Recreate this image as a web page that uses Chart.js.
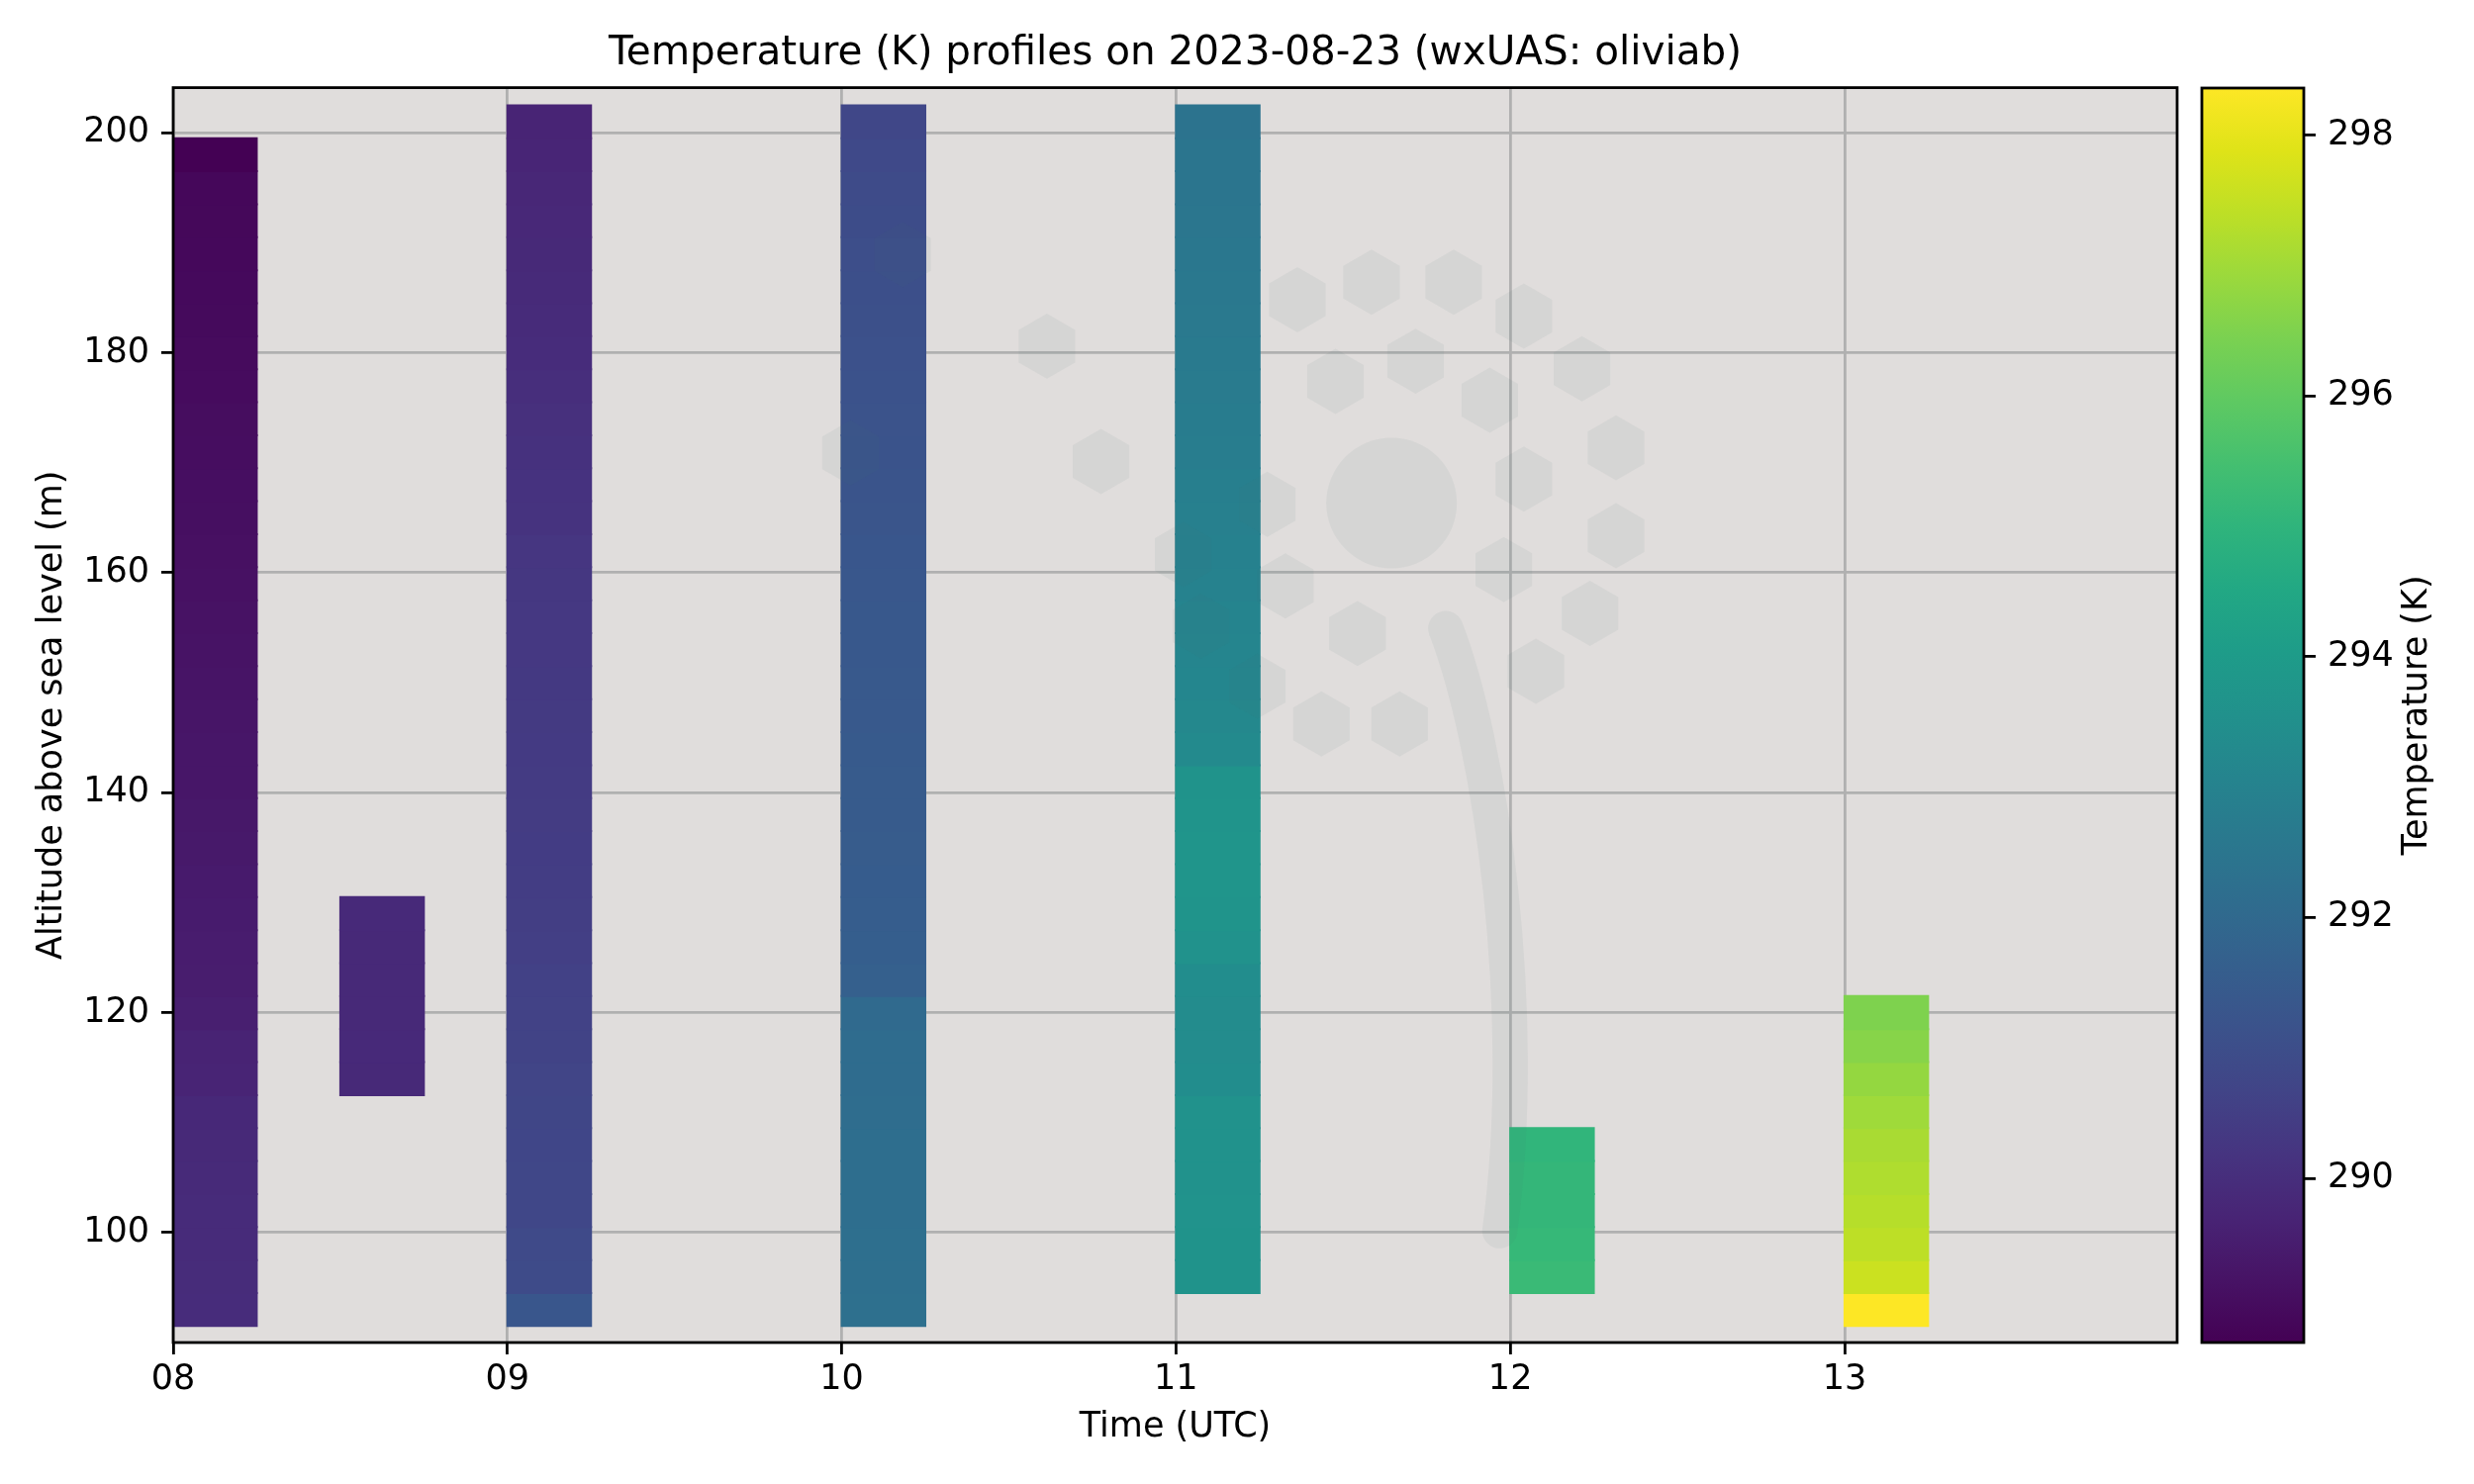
<!DOCTYPE html>
<html lang="en">
<head>
  <meta charset="UTF-8">
  <title>Temperature (K) profiles on 2023-08-23</title>
  <style>
    html, body {
      margin: 0;
      padding: 0;
      background: #ffffff;
    }
    #wrap {
      position: relative;
      width: 2500px;
      height: 1500px;
    }
    #mainCanvas {
      position: absolute;
      left: 0;
      top: 0;
    }
    #barCanvas {
      position: absolute;
      left: 2215px;
      top: 0;
    }
  </style>
  <script src="https://cdn.jsdelivr.net/npm/chart.js"></script>
</head>
<body>
  <div id="wrap">
    <canvas id="mainCanvas" width="2215" height="1500"></canvas>
    <canvas id="barCanvas" width="285" height="1500"></canvas>
  </div>

  <script>
    // ---- data ----

    // launch time of each profile, hours UTC
    const launchTimes = [8, 8.5, 9, 10, 11, 12, 13];
    // each profile is drawn 15 minutes wide
    const profileHours = 0.25;

    // centre of each 3 m altitude bin (m above sea level), bottom to top
    const altitudeBins = [93, 96, 99, 102, 105, 108, 111, 114, 117, 120, 123, 126, 129,
      132, 135, 138, 141, 144, 147, 150, 153, 156, 159, 162, 165, 168, 171, 174,
      177, 180, 183, 186, 189, 192, 195, 198, 201];

    // temperature (K) in each bin, null where the flight has no data
    const temp0800 = [289.95, 289.93, 289.92, 289.90, 289.88, 289.85, 289.83, 289.70, 289.68,
      289.55, 289.50, 289.48, 289.45, 289.42, 289.38, 289.35, 289.32, 289.30, 289.28, 289.25,
      289.22, 289.20, 289.17, 289.15, 289.12, 289.10, 289.07, 289.05, 289.02, 289.00, 288.98,
      288.96, 288.94, 288.92, 288.90, 288.74, null];
    const temp0830 = [null, null, null, null, null, null, null, 289.85, 289.86, 289.85, 289.84,
      289.85, 289.86, null, null, null, null, null, null, null, null, null, null, null, null,
      null, null, null, null, null, null, null, null, null, null, null, null];
    const temp0900 = [291.30, 290.90, 290.86, 290.78, 290.76, 290.74, 290.72, 290.70, 290.62,
      290.60, 290.58, 290.50, 290.47, 290.45, 290.43, 290.41, 290.39, 290.37, 290.35, 290.33,
      290.31, 290.29, 290.26, 290.23, 290.16, 290.12, 290.08, 290.05, 290.00, 289.95, 289.92,
      289.88, 289.85, 289.82, 289.78, 289.74, 289.70];
    const temp1000 = [292.25, 292.23, 292.22, 292.20, 292.18, 292.17, 292.15, 292.12, 292.10,
      292.05, 291.65, 291.60, 291.56, 291.53, 291.50, 291.48, 291.46, 291.44, 291.42, 291.40,
      291.37, 291.35, 291.32, 291.29, 291.26, 291.23, 291.20, 291.17, 291.13, 291.10, 291.06,
      291.03, 291.00, 290.95, 290.90, 290.85, 290.78];
    const temp1100 = [null, 293.65, 293.65, 293.62, 293.60, 293.60, 293.58, 293.40, 293.35,
      293.35, 293.40, 293.60, 293.70, 293.72, 293.72, 293.70, 293.65, 293.30, 293.20, 293.15,
      293.10, 293.05, 293.00, 292.95, 292.90, 292.85, 292.80, 292.75, 292.70, 292.65, 292.62,
      292.58, 292.55, 292.50, 292.48, 292.45, 292.40];
    const temp1200 = [null, 295.25, 295.15, 295.10, 295.10, 295.05, null, null, null, null,
      null, null, null, null, null, null, null, null, null, null, null, null, null, null, null,
      null, null, null, null, null, null, null, null, null, null, null, null];
    const temp1300 = [298.36, 297.59, 297.40, 297.30, 297.20, 297.11, 296.97, 296.82, 296.63,
      296.50, null, null, null, null, null, null, null, null, null, null, null, null, null,
      null, null, null, null, null, null, null, null, null, null, null, null, null, null];

    const profiles = [temp0800, temp0830, temp0900, temp1000, temp1100, temp1200, temp1300];

    // axis ticks
    const altitudeTicksStep = 20;
    const timeTicksStep = 1;
    const tempTicksStep = 2;

    // ---- styling ----
    const FONT = '"DejaVu Sans", sans-serif';
    Chart.defaults.font.family = FONT;
    Chart.defaults.color = '#000000';

    // viridis colour map, 21 stops
    const viridis = [
      [68, 1, 84], [71, 19, 101], [72, 36, 117], [70, 52, 128], [65, 68, 135],
      [59, 82, 139], [53, 95, 141], [47, 108, 142], [42, 120, 142], [37, 132, 142],
      [33, 145, 140], [30, 156, 137], [34, 168, 132], [47, 180, 124], [68, 191, 112],
      [94, 201, 98], [122, 209, 81], [155, 217, 60], [189, 223, 38], [223, 227, 24],
      [253, 231, 37]
    ];

    function viridisColor(f) {
      f = Math.max(0, Math.min(1, f));
      const pos = f * (viridis.length - 1);
      const i = Math.min(Math.floor(pos), viridis.length - 2);
      const k = pos - i;
      const a = viridis[i], b = viridis[i + 1];
      const c = [0, 1, 2].map(j => Math.round(a[j] + (b[j] - a[j]) * k));
      return 'rgb(' + c.join(',') + ')';
    }

    // colour limits come from the data
    const allTemps = profiles.flat().filter(t => t !== null);
    const vmin = Math.min(...allTemps);
    const vmax = Math.max(...allTemps);

    // one floating bar per altitude bin
    const binHalf = (altitudeBins[1] - altitudeBins[0]) / 2;
    const cells = [];
    profiles.forEach((temps, p) => {
      temps.forEach((t, i) => {
        if (t === null) return;
        cells.push({
          x: launchTimes[p] + profileHours / 2,
          y: [altitudeBins[i] - binHalf, altitudeBins[i] + binHalf],
          t: t
        });
      });
    });

    // bar width: profileHours, relative to the closest gap between launches
    let minGap = Infinity;
    for (let i = 1; i < launchTimes.length; i++) {
      minGap = Math.min(minGap, launchTimes[i] - launchTimes[i - 1]);
    }

    // grey plot background
    const plotBackground = {
      id: 'plotBackground',
      beforeDraw(chart) {
        const {ctx, chartArea: a} = chart;
        ctx.save();
        ctx.fillStyle = '#e0dddc';
        ctx.fillRect(a.left, a.top, a.right - a.left, a.bottom - a.top);
        ctx.restore();
      }
    };

    // faint logo drawn over the data (positions as fractions of the plot area)
    const logoHexagons = [
      [0.364, 0.133], [0.436, 0.206], [0.338, 0.291], [0.463, 0.298], [0.561, 0.169],
      [0.598, 0.155], [0.639, 0.155], [0.674, 0.182], [0.703, 0.224], [0.580, 0.234],
      [0.620, 0.218], [0.657, 0.249], [0.720, 0.287], [0.674, 0.312], [0.546, 0.332],
      [0.720, 0.357], [0.504, 0.372], [0.664, 0.384], [0.555, 0.397], [0.707, 0.419],
      [0.513, 0.429], [0.591, 0.435], [0.680, 0.465], [0.541, 0.477], [0.573, 0.507],
      [0.612, 0.507]
    ];
    const watermark = {
      id: 'watermark',
      afterDatasetsDraw(chart) {
        const {ctx, chartArea: a} = chart;
        const w = a.right - a.left, h = a.bottom - a.top;
        const px = f => a.left + f * w;
        const py = f => a.top + f * h;
        const col = 'rgba(67,107,120,0.07)';
        ctx.save();
        ctx.fillStyle = col;
        const r = 0.026 * h;
        logoHexagons.forEach(([fx, fy]) => {
          const cx = px(fx), cy = py(fy);
          ctx.beginPath();
          for (let k = 0; k < 6; k++) {
            const ang = -Math.PI / 2 + k * Math.PI / 3;
            const vx = cx + r * Math.cos(ang), vy = cy + r * Math.sin(ang);
            if (k === 0) ctx.moveTo(vx, vy); else ctx.lineTo(vx, vy);
          }
          ctx.closePath();
          ctx.fill();
        });
        ctx.beginPath();
        ctx.arc(px(0.608), py(0.331), 0.052 * h, 0, Math.PI * 2);
        ctx.fill();
        ctx.strokeStyle = col;
        ctx.lineWidth = 0.028 * h;
        ctx.lineCap = 'round';
        ctx.beginPath();
        ctx.moveTo(px(0.635), py(0.431));
        ctx.bezierCurveTo(px(0.657), py(0.521), px(0.677), py(0.735), px(0.662), py(0.911));
        ctx.stroke();
        ctx.restore();
      }
    };

    // black box round the plot area
    const frame = {
      id: 'frame',
      afterDraw(chart) {
        const {ctx, chartArea: a} = chart;
        ctx.save();
        ctx.strokeStyle = '#000000';
        ctx.lineWidth = 2.8;
        ctx.strokeRect(a.left, a.top, a.right - a.left, a.bottom - a.top);
        ctx.restore();
      }
    };

    const gridStyle = {
      color: '#b0b0b0',
      lineWidth: 2.8,
      tickLength: 12,
      tickColor: '#000000',
      tickWidth: 2.8
    };

    new Chart(document.getElementById('mainCanvas'), {
      type: 'bar',
      data: {
        datasets: [{
          data: cells,
          backgroundColor: c => (c.raw ? viridisColor((c.raw.t - vmin) / (vmax - vmin)) : '#000'),
          borderWidth: 0,
          inflateAmount: 1,
          barPercentage: profileHours / minGap,
          categoryPercentage: 1
        }]
      },
      options: {
        responsive: false,
        animation: false,
        devicePixelRatio: 1,
        events: [],
        layout: { padding: { left: 0, right: 15, top: 0, bottom: 0 } },
        plugins: {
          legend: { display: false },
          tooltip: { enabled: false },
          title: {
            display: true,
            fullSize: false,
            text: 'Temperature (K) profiles on 2023-08-23 (wxUAS: oliviab)',
            color: '#000000',
            font: { size: 40.5, weight: 'normal' },
            padding: { top: 30, bottom: 10 }
          }
        },
        scales: {
          x: {
            type: 'linear',
            min: launchTimes[0],
            max: 13.995,
            offset: false,
            grid: Object.assign({ offset: false }, gridStyle),
            border: { display: false },
            ticks: {
              stepSize: timeTicksStep,
              includeBounds: false,
              autoSkip: false,
              maxRotation: 0,
              padding: 5,
              font: { size: 35 },
              callback: v => (v < 10 ? '0' : '') + v
            },
            title: {
              display: true,
              text: 'Time (UTC)',
              font: { size: 35 },
              padding: { top: 0, bottom: 36 }
            },
            afterFit: s => { s.height = 143; }
          },
          y: {
            type: 'linear',
            min: 90,
            max: 204.1,
            beginAtZero: false,
            grid: gridStyle,
            border: { display: false },
            ticks: {
              stepSize: altitudeTicksStep,
              includeBounds: false,
              padding: 12,
              font: { size: 35 }
            },
            title: {
              display: true,
              text: 'Altitude above sea level (m)',
              font: { size: 35 },
              padding: { top: 32, bottom: 0 }
            },
            afterFit: s => { s.width = 175; }
          }
        }
      },
      plugins: [plotBackground, watermark, frame]
    });

    // ---- colour bar ----
    const colorbarFill = {
      id: 'colorbarFill',
      beforeDatasetsDraw(chart) {
        const {ctx, chartArea: a} = chart;
        const ys = chart.scales.y;
        const g = ctx.createLinearGradient(0, ys.getPixelForValue(vmin), 0, ys.getPixelForValue(vmax));
        viridis.forEach((c, i) => {
          g.addColorStop(i / (viridis.length - 1), 'rgb(' + c.join(',') + ')');
        });
        ctx.save();
        ctx.fillStyle = g;
        ctx.fillRect(a.left, a.top, a.right - a.left, a.bottom - a.top);
        ctx.strokeStyle = '#000000';
        ctx.lineWidth = 2.8;
        ctx.strokeRect(a.left, a.top, a.right - a.left, a.bottom - a.top);
        ctx.restore();
      }
    };

    const colorbarLabel = {
      id: 'colorbarLabel',
      afterDraw(chart) {
        const {ctx, chartArea: a} = chart;
        ctx.save();
        ctx.translate(a.right + 115, (a.top + a.bottom) / 2);
        ctx.rotate(-Math.PI / 2);
        ctx.font = '35px ' + FONT;
        ctx.fillStyle = '#000000';
        ctx.textAlign = 'center';
        ctx.textBaseline = 'middle';
        ctx.fillText('Temperature (K)', 0, 0);
        ctx.restore();
      }
    };

    new Chart(document.getElementById('barCanvas'), {
      type: 'scatter',
      data: { datasets: [] },
      options: {
        responsive: false,
        animation: false,
        devicePixelRatio: 1,
        events: [],
        layout: { padding: { left: 10, right: 0, top: 89, bottom: 143 } },
        plugins: {
          legend: { display: false },
          tooltip: { enabled: false }
        },
        scales: {
          x: { display: false },
          y: {
            position: 'right',
            min: vmin,
            max: vmax,
            grid: Object.assign({}, gridStyle, { drawOnChartArea: false }),
            border: { display: false },
            ticks: {
              stepSize: tempTicksStep,
              includeBounds: false,
              padding: 12,
              font: { size: 35 }
            },
            afterFit: s => { s.width = 172; }
          }
        }
      },
      plugins: [colorbarFill, colorbarLabel]
    });
  </script>
</body>
</html>
